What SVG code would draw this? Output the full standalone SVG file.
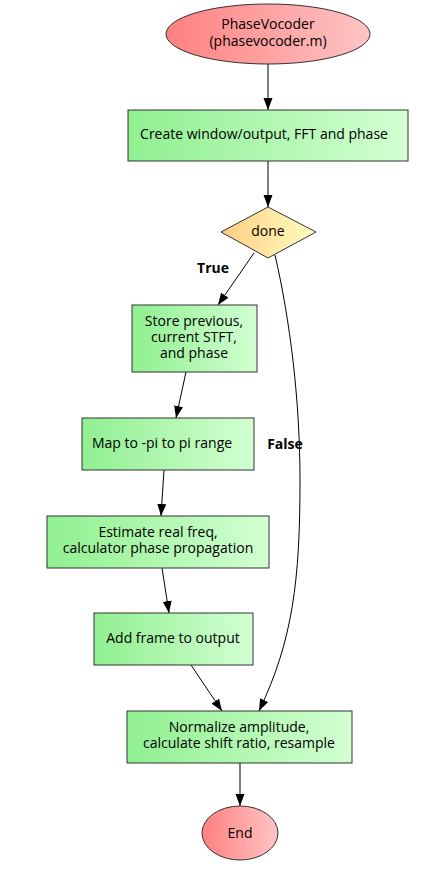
<svg xmlns="http://www.w3.org/2000/svg" width="439" height="874" viewBox="0 0 439 874">
<style>
text{font-family:"Open Sans","Noto Sans","DejaVu Sans",sans-serif;font-size:14px;fill:#000;text-anchor:middle}
.lbl{font-weight:bold;font-size:14px}
.box{fill:url(#g);stroke:#333;stroke-width:1}
.term{fill:url(#r);stroke:#333;stroke-width:1}
.edge{fill:none;stroke:#000;stroke-width:1}
</style>
<defs>
<linearGradient id="g" x1="0" y1="0" x2="1" y2="0"><stop offset="0" stop-color="#90f090"/><stop offset="1" stop-color="#d2ffd2"/></linearGradient>
<linearGradient id="r" x1="0" y1="0" x2="1" y2="0"><stop offset="0" stop-color="#ff8080"/><stop offset="1" stop-color="#ffc4c4"/></linearGradient>
<linearGradient id="y" x1="0" y1="0" x2="1" y2="0"><stop offset="0" stop-color="#ffcc80"/><stop offset="1" stop-color="#ffffc4"/></linearGradient>
<marker id="a" viewBox="0 0 12 10" refX="12" refY="5" markerWidth="12" markerHeight="10" markerUnits="userSpaceOnUse" orient="auto"><path d="M0,0.5L12,5L0,9.5z" fill="#000"/></marker>
</defs>
<g id="edges">
<path class="edge" marker-end="url(#a)" d="M268,64L268,110"/>
<path class="edge" marker-end="url(#a)" d="M268,161L268,207"/>
<path class="edge" marker-end="url(#a)" d="M254,253L218,305"/>
<path class="edge" marker-end="url(#a)" d="M186,372L176,418"/>
<path class="edge" marker-end="url(#a)" d="M164,470L161,516"/>
<path class="edge" marker-end="url(#a)" d="M162,568L169,613"/>
<path class="edge" marker-end="url(#a)" d="M191,665L222,711"/>
<path class="edge" marker-end="url(#a)" d="M275,255C290,320 300,400 300,480C300,580 293,640 259,711"/>
<path class="edge" marker-end="url(#a)" d="M240,763L240,806"/>
<text class="lbl" x="213" y="273">True</text>
<text class="lbl" x="285" y="449">False</text>
</g>
<g id="start"><ellipse class="term" cx="268" cy="34" rx="102" ry="30"/><text x="268" y="29">PhaseVocoder</text><text x="268" y="46">(phasevocoder.m)</text></g>
<g id="create"><rect class="box" x="128" y="110" width="280" height="51"/><text x="264" y="139">Create window/output, FFT and phase</text></g>
<g id="done"><path d="M268,207L316,232L268,258L221,232z" fill="url(#y)" stroke="#333"/><text x="268" y="236">done</text></g>
<g id="store"><rect class="box" x="132" y="305" width="125" height="67"/><text x="194" y="326">Store previous,</text><text x="194" y="342">current STFT,</text><text x="194" y="358">and phase</text></g>
<g id="map"><rect class="box" x="82" y="418" width="172" height="52"/><text x="162" y="448">Map to -pi to pi range</text></g>
<g id="estimate"><rect class="box" x="47" y="516" width="222" height="52"/><text x="158" y="537">Estimate real freq,</text><text x="158" y="553">calculator phase propagation</text></g>
<g id="add"><rect class="box" x="94" y="613" width="159" height="52"/><text x="173" y="643">Add frame to output</text></g>
<g id="normalize"><rect class="box" x="127" y="711" width="225" height="52"/><text x="239" y="732">Normalize amplitude,</text><text x="239" y="748">calculate shift ratio, resample</text></g>
<g id="end"><ellipse class="term" cx="240" cy="833" rx="38" ry="27"/><text x="240" y="838">End</text></g>
</svg>
